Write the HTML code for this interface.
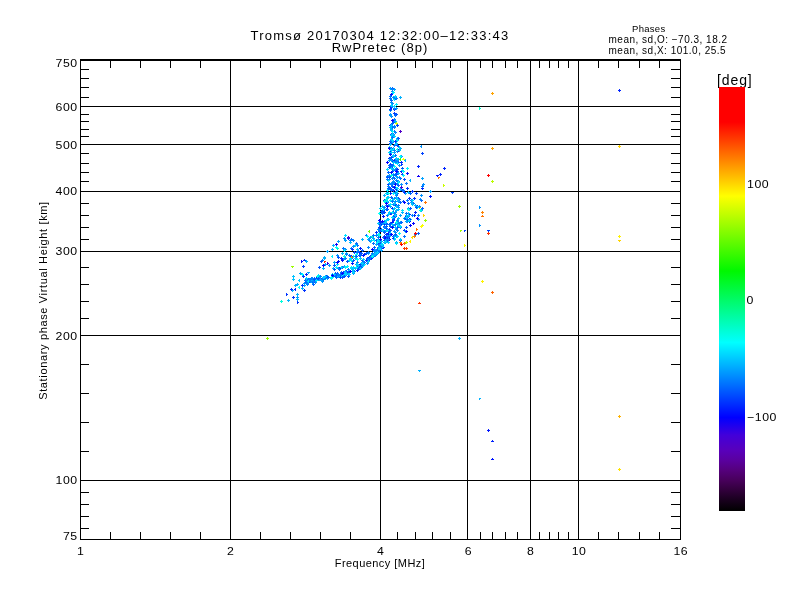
<!DOCTYPE html>
<html lang="en"><head><meta charset="utf-8"><title>Tromsø 20170304 RwPretec</title>
<style>html,body{margin:0;padding:0;background:#fff;overflow:hidden}svg{display:block;will-change:transform}text{font-family:"Liberation Sans",sans-serif;fill:#000}</style></head><body>
<svg width="800" height="600" viewBox="0 0 800 600">
<rect x="0" y="0" width="800" height="600" fill="#fff"/>
<g fill="#000" shape-rendering="crispEdges"><rect x="80" y="59" width="601" height="2"/><rect x="80" y="539" width="601" height="1"/><rect x="80" y="59" width="1" height="481"/><rect x="680" y="59" width="1" height="481"/><rect x="80" y="480" width="601" height="1"/><rect x="80" y="335" width="601" height="1"/><rect x="80" y="251" width="601" height="1"/><rect x="80" y="191" width="601" height="1"/><rect x="80" y="144" width="601" height="1"/><rect x="80" y="106" width="601" height="1"/><rect x="230" y="59" width="1" height="481"/><rect x="380" y="59" width="1" height="481"/><rect x="467" y="59" width="1" height="481"/><rect x="530" y="59" width="1" height="481"/><rect x="578" y="59" width="1" height="481"/><rect x="81" y="528" width="8" height="1"/><rect x="671" y="528" width="9" height="1"/><rect x="81" y="516" width="8" height="1"/><rect x="671" y="516" width="9" height="1"/><rect x="81" y="504" width="8" height="1"/><rect x="671" y="504" width="9" height="1"/><rect x="81" y="492" width="8" height="1"/><rect x="671" y="492" width="9" height="1"/><rect x="81" y="451" width="8" height="1"/><rect x="671" y="451" width="9" height="1"/><rect x="81" y="422" width="8" height="1"/><rect x="671" y="422" width="9" height="1"/><rect x="81" y="393" width="8" height="1"/><rect x="671" y="393" width="9" height="1"/><rect x="81" y="364" width="8" height="1"/><rect x="671" y="364" width="9" height="1"/><rect x="81" y="318" width="8" height="1"/><rect x="671" y="318" width="9" height="1"/><rect x="81" y="301" width="8" height="1"/><rect x="671" y="301" width="9" height="1"/><rect x="81" y="284" width="8" height="1"/><rect x="671" y="284" width="9" height="1"/><rect x="81" y="267" width="8" height="1"/><rect x="671" y="267" width="9" height="1"/><rect x="81" y="239" width="8" height="1"/><rect x="671" y="239" width="9" height="1"/><rect x="81" y="227" width="8" height="1"/><rect x="671" y="227" width="9" height="1"/><rect x="81" y="215" width="8" height="1"/><rect x="671" y="215" width="9" height="1"/><rect x="81" y="203" width="8" height="1"/><rect x="671" y="203" width="9" height="1"/><rect x="81" y="181" width="8" height="1"/><rect x="671" y="181" width="9" height="1"/><rect x="81" y="172" width="8" height="1"/><rect x="671" y="172" width="9" height="1"/><rect x="81" y="163" width="8" height="1"/><rect x="671" y="163" width="9" height="1"/><rect x="81" y="153" width="8" height="1"/><rect x="671" y="153" width="9" height="1"/><rect x="81" y="136" width="8" height="1"/><rect x="671" y="136" width="9" height="1"/><rect x="81" y="129" width="8" height="1"/><rect x="671" y="129" width="9" height="1"/><rect x="81" y="121" width="8" height="1"/><rect x="671" y="121" width="9" height="1"/><rect x="81" y="114" width="8" height="1"/><rect x="671" y="114" width="9" height="1"/><rect x="81" y="97" width="8" height="1"/><rect x="671" y="97" width="9" height="1"/><rect x="81" y="87" width="8" height="1"/><rect x="671" y="87" width="9" height="1"/><rect x="81" y="78" width="8" height="1"/><rect x="671" y="78" width="9" height="1"/><rect x="81" y="69" width="8" height="1"/><rect x="671" y="69" width="9" height="1"/><rect x="110" y="61" width="1" height="7"/><rect x="110" y="532" width="1" height="7"/><rect x="140" y="61" width="1" height="7"/><rect x="140" y="532" width="1" height="7"/><rect x="170" y="61" width="1" height="7"/><rect x="170" y="532" width="1" height="7"/><rect x="200" y="61" width="1" height="7"/><rect x="200" y="532" width="1" height="7"/><rect x="260" y="61" width="1" height="7"/><rect x="260" y="532" width="1" height="7"/><rect x="290" y="61" width="1" height="7"/><rect x="290" y="532" width="1" height="7"/><rect x="320" y="61" width="1" height="7"/><rect x="320" y="532" width="1" height="7"/><rect x="350" y="61" width="1" height="7"/><rect x="350" y="532" width="1" height="7"/><rect x="397" y="61" width="1" height="7"/><rect x="397" y="532" width="1" height="7"/><rect x="415" y="61" width="1" height="7"/><rect x="415" y="532" width="1" height="7"/><rect x="432" y="61" width="1" height="7"/><rect x="432" y="532" width="1" height="7"/><rect x="450" y="61" width="1" height="7"/><rect x="450" y="532" width="1" height="7"/><rect x="480" y="61" width="1" height="7"/><rect x="480" y="532" width="1" height="7"/><rect x="492" y="61" width="1" height="7"/><rect x="492" y="532" width="1" height="7"/><rect x="505" y="61" width="1" height="7"/><rect x="505" y="532" width="1" height="7"/><rect x="517" y="61" width="1" height="7"/><rect x="517" y="532" width="1" height="7"/><rect x="539" y="61" width="1" height="7"/><rect x="539" y="532" width="1" height="7"/><rect x="549" y="61" width="1" height="7"/><rect x="549" y="532" width="1" height="7"/><rect x="558" y="61" width="1" height="7"/><rect x="558" y="532" width="1" height="7"/><rect x="568" y="61" width="1" height="7"/><rect x="568" y="532" width="1" height="7"/><rect x="598" y="61" width="1" height="7"/><rect x="598" y="532" width="1" height="7"/><rect x="618" y="61" width="1" height="7"/><rect x="618" y="532" width="1" height="7"/><rect x="639" y="61" width="1" height="7"/><rect x="639" y="532" width="1" height="7"/><rect x="659" y="61" width="1" height="7"/><rect x="659" y="532" width="1" height="7"/></g>
<text transform="translate(77.6,540) scale(1.12,1)" font-size="11" text-anchor="end" letter-spacing="0.45">75</text>
<text transform="translate(77.6,484.02940642801605) scale(1.12,1)" font-size="11" text-anchor="end" letter-spacing="0.45">100</text>
<text transform="translate(77.6,339.53500850930504) scale(1.12,1)" font-size="11" text-anchor="end" letter-spacing="0.45">200</text>
<text transform="translate(77.6,255.01120416257805) scale(1.12,1)" font-size="11" text-anchor="end" letter-spacing="0.45">300</text>
<text transform="translate(77.6,195.0406105905941) scale(1.12,1)" font-size="11" text-anchor="end" letter-spacing="0.45">400</text>
<text transform="translate(77.6,148.523804346727) scale(1.12,1)" font-size="11" text-anchor="end" letter-spacing="0.45">500</text>
<text transform="translate(77.6,110.51680624386711) scale(1.12,1)" font-size="11" text-anchor="end" letter-spacing="0.45">600</text>
<text transform="translate(77.6,67) scale(1.12,1)" font-size="11" text-anchor="end" letter-spacing="0.45">750</text>
<text transform="translate(80.8,555) scale(1.12,1)" font-size="11" text-anchor="middle" letter-spacing="0.45">1</text>
<text transform="translate(230.8,555) scale(1.12,1)" font-size="11" text-anchor="middle" letter-spacing="0.45">2</text>
<text transform="translate(380.8,555) scale(1.12,1)" font-size="11" text-anchor="middle" letter-spacing="0.45">4</text>
<text transform="translate(468.5443751081734,555) scale(1.12,1)" font-size="11" text-anchor="middle" letter-spacing="0.45">6</text>
<text transform="translate(530.8,555) scale(1.12,1)" font-size="11" text-anchor="middle" letter-spacing="0.45">8</text>
<text transform="translate(579.0892142331043,555) scale(1.12,1)" font-size="11" text-anchor="middle" letter-spacing="0.45">10</text>
<text transform="translate(680.8,555) scale(1.12,1)" font-size="11" text-anchor="middle" letter-spacing="0.45">16</text>
<text x="380" y="39.6" font-size="13" text-anchor="middle" letter-spacing="1.25">Tromsø 20170304 12:32:00–12:33:43</text>
<text x="380" y="51.6" font-size="13" text-anchor="middle" letter-spacing="1.05">RwPretec (8p)</text>
<text x="380" y="567" font-size="11" text-anchor="middle" letter-spacing="0.45">Frequency [MHz]</text>
<text transform="translate(47,300.5) rotate(-90)" font-size="11" text-anchor="middle" letter-spacing="0.65">Stationary phase Virtual Height [km]</text>
<text x="632" y="32" font-size="9.5" text-anchor="start" letter-spacing="0.3">Phases</text>
<text x="608.5" y="43" font-size="10" text-anchor="start" letter-spacing="0.5">mean, sd,O: −70.3, 18.2</text>
<text x="608.5" y="53.8" font-size="10" text-anchor="start" letter-spacing="0.5">mean, sd,X: 101.0, 25.5</text>
<text x="717" y="85" font-size="14" text-anchor="start" letter-spacing="0.9">[deg]</text>
<text transform="translate(747,188) scale(1.12,1)" font-size="11" text-anchor="start" letter-spacing="0.5">100</text>
<text transform="translate(746.6,303.7) scale(1.12,1)" font-size="11" text-anchor="start" letter-spacing="0.4">0</text>
<text transform="translate(747,421) scale(1.12,1)" font-size="11" text-anchor="start" letter-spacing="0.5">−100</text>
<defs><linearGradient id="cb" x1="0" y1="0" x2="0" y2="1"><stop offset="0.0000" stop-color="#ff0000"/><stop offset="0.0825" stop-color="#ff0000"/><stop offset="0.2571" stop-color="#ffff00"/><stop offset="0.4340" stop-color="#00f800"/><stop offset="0.6026" stop-color="#00ffff"/><stop offset="0.7795" stop-color="#0000ff"/><stop offset="0.8208" stop-color="#4200da"/><stop offset="0.8561" stop-color="#5800bc"/><stop offset="0.8797" stop-color="#5a00a0"/><stop offset="0.9033" stop-color="#55007d"/><stop offset="0.9269" stop-color="#48005c"/><stop offset="0.9505" stop-color="#32003c"/><stop offset="0.9741" stop-color="#19001e"/><stop offset="1.0000" stop-color="#000000"/></linearGradient></defs><rect x="719" y="87" width="26" height="424" fill="url(#cb)"/>
<g shape-rendering="crispEdges">
<path fill="#9cfc00" d="M267,337h1v1h1v1h-1v1h-1v-1h-1v-1h1zM459,205h1v1h1v1h-1v1h-1v-1h-1v-1h1zM460,230h2v1h-1v1h-1zM425,219h1v1h1v1h-1v1h-1v-1h-1v-1h1zM291,266h3v1h-1v1h-1v-1h-1z"/>
<path fill="#ffa300" d="M492,92h1v1h1v1h-1v1h-1v-1h-1v-1h1zM492,147h1v1h1v1h-1v1h-1v-1h-1v-1h1z"/>
<path fill="#00fecb" d="M479,107h1v1h1v1h-1v1h-1zM336,274h1v1h1v1h-1v1h-1v-1h-1v-1h1zM333,275h1v1h1v1h-1v1h-1v-1h-1v-1h1zM381,246h1v1h1v1h-1v1h-1v-1h-1v-1h1zM372,235h1v1h1v1h-1v1h-1v-1h-1v-1h1zM337,247h1v1h1v1h-1v1h-1v-1h-1v-1h1zM353,255h1v1h1v1h-1v1h-1v-1h-1v-1h1zM396,140h1v1h1v1h-1v1h-1v-1h-1v-1h1z"/>
<path fill="#ff0000" d="M488,174h1v1h1v1h-1v1h-1v-1h-1v-1h1zM401,243h1v1h1v1h-1v1h-1v-1h-1v-1h1z"/>
<path fill="#bbfd00" d="M492,180h1v1h1v1h-1v1h-1v-1h-1v-1h1zM406,241h1v1h1v1h-1v1h-1v-1h-1v-1h1z"/>
<path fill="#0023ff" d="M619,89h1v1h1v1h-1v1h-1v-1h-1v-1h1zM492,440h1v1h1v1h-3v-1h1zM444,167h1v1h1v1h-1v1h-1v-1h-1v-1h1zM440,173h1v1h1v1h-1v1h-1v-1h-1v-1h1zM418,165h1v1h1v1h-1v1h-1v-1h-1v-1h1zM422,187h1v1h1v1h-1v1h-1v-1h-1v-1h1zM295,288h1v3h-1v-1h-1v-1h1zM306,273h1v1h1v1h-1v1h-1v-1h-1v-1h1zM309,280h1v1h1v1h-1v1h-1v-1h-1v-1h1zM377,249h1v1h1v1h-1v1h-1v-1h-1v-1h1zM369,258h1v1h1v1h-1v1h-1v-1h-1v-1h1zM369,256h1v1h1v1h-1v1h-1v-1h-1v-1h1zM351,255h1v1h1v1h-1v1h-1v-1h-1v-1h1zM364,253h1v1h1v1h-1v1h-1v-1h-1v-1h1zM341,257h1v1h1v1h-1v1h-1v-1h-1v-1h1zM339,267h1v1h1v1h-1v1h-1v-1h-1v-1h1zM390,192h1v1h1v1h-1v1h-1v-1h-1v-1h1zM414,214h1v1h1v1h-1v1h-1v-1h-1v-1h1zM384,222h1v1h1v1h-1v1h-1v-1h-1v-1h1zM415,211h1v1h1v1h-1v1h-1v-1h-1v-1h1zM390,212h1v1h1v1h-1v1h-1v-1h-1v-1h1zM392,216h1v1h1v1h-1v1h-1v-1h-1v-1h1zM392,207h1v1h1v1h-1v1h-1v-1h-1v-1h1zM417,205h1v1h1v1h-1v1h-1v-1h-1v-1h1zM409,213h1v1h1v1h-1v1h-1v-1h-1v-1h1zM405,216h1v1h1v1h-1v1h-1v-1h-1v-1h1zM401,161h1v1h1v1h-1v1h-1v-1h-1v-1h1zM398,145h1v1h1v1h-1v1h-1v-1h-1v-1h1zM389,157h1v1h1v1h-1v1h-1v-1h-1v-1h1zM396,167h1v1h1v1h-1v1h-1v-1h-1v-1h1zM393,96h1v1h1v1h-1v1h-1v-1h-1v-1h1z"/>
<path fill="#ffd300" d="M619,145h1v1h1v1h-1v1h-1v-1h-1v-1h1zM618,240h3v1h-1v1h-1v-1h-1zM423,214h1v1h1v1h-1v1h-1z"/>
<path fill="#fff300" d="M619,235h1v1h1v1h-1v1h-1v-1h-1v-1h1zM482,280h1v1h1v1h-1v1h-1v-1h-1v-1h1zM410,240h1v3h-1v-1h-1v-1h1z"/>
<path fill="#ffb300" d="M619,415h1v1h1v1h-1v1h-1v-1h-1v-1h1zM418,207h3v1h-1v1h-1v-1h-1z"/>
<path fill="#ffe300" d="M619,468h1v1h1v1h-1v1h-1v-1h-1v-1h1zM412,236h1v3h-1v-1h-1v-1h1z"/>
<path fill="#0092ff" d="M479,206h1v1h1v1h-1v1h-1zM479,224h1v1h1v1h-1v1h-1zM421,145h1v3h-1v-1h-1v-1h1zM423,183h1v1h1v1h-1v1h-1v-1h-1v-1h1zM315,281h1v1h1v1h-1v1h-1v-1h-1v-1h1zM309,279h1v1h1v1h-1v1h-1v-1h-1v-1h1zM322,280h1v1h1v1h-1v1h-1v-1h-1v-1h1zM327,276h1v1h1v1h-1v1h-1v-1h-1v-1h1zM304,282h1v1h1v1h-1v1h-1v-1h-1v-1h1zM305,279h1v1h1v1h-1v1h-1v-1h-1v-1h1zM311,280h1v1h1v1h-1v1h-1v-1h-1v-1h1zM323,277h1v1h1v1h-1v1h-1v-1h-1v-1h1zM314,279h1v1h1v1h-1v1h-1v-1h-1v-1h1zM312,280h1v1h1v1h-1v1h-1v-1h-1v-1h1zM332,274h1v1h1v1h-1v1h-1v-1h-1v-1h1zM379,248h1v1h1v1h-1v1h-1v-1h-1v-1h1zM359,267h1v1h1v1h-1v1h-1v-1h-1v-1h1zM367,262h1v1h1v1h-1v1h-1v-1h-1v-1h1zM367,257h1v1h1v1h-1v1h-1v-1h-1v-1h1zM376,253h1v1h1v1h-1v1h-1v-1h-1v-1h1zM359,267h1v1h1v1h-1v1h-1v-1h-1v-1h1zM382,245h1v1h1v1h-1v1h-1v-1h-1v-1h1zM346,270h1v1h1v1h-1v1h-1v-1h-1v-1h1zM382,244h1v1h1v1h-1v1h-1v-1h-1v-1h1zM375,254h1v1h1v1h-1v1h-1v-1h-1v-1h1zM346,272h1v1h1v1h-1v1h-1v-1h-1v-1h1zM386,238h1v1h1v1h-1v1h-1v-1h-1v-1h1zM368,258h1v1h1v1h-1v1h-1v-1h-1v-1h1zM346,273h1v1h1v1h-1v1h-1v-1h-1v-1h1zM385,241h1v1h1v1h-1v1h-1v-1h-1v-1h1zM378,246h1v1h1v1h-1v1h-1v-1h-1v-1h1zM345,248h1v1h1v1h-1v1h-1v-1h-1v-1h1zM343,258h1v1h1v1h-1v1h-1v-1h-1v-1h1zM344,237h1v1h1v1h-1v1h-1v-1h-1v-1h1zM329,264h1v1h1v1h-1v1h-1v-1h-1v-1h1zM353,239h1v1h1v1h-1v1h-1v-1h-1v-1h1zM366,252h1v1h1v1h-1v1h-1v-1h-1v-1h1zM337,254h1v1h1v1h-1v1h-1v-1h-1v-1h1zM370,236h1v1h1v1h-1v1h-1v-1h-1v-1h1zM353,245h1v1h1v1h-1v1h-1v-1h-1v-1h1zM338,267h1v1h1v1h-1v1h-1v-1h-1v-1h1zM345,270h1v1h1v1h-1v1h-1v-1h-1v-1h1zM342,259h1v1h1v1h-1v1h-1v-1h-1v-1h1zM398,206h1v1h1v1h-1v1h-1v-1h-1v-1h1zM393,224h1v1h1v1h-1v1h-1v-1h-1v-1h1zM397,219h1v1h1v1h-1v1h-1v-1h-1v-1h1zM396,235h1v1h1v1h-1v1h-1v-1h-1v-1h1zM421,194h1v1h1v1h-1v1h-1v-1h-1v-1h1zM379,223h1v1h1v1h-1v1h-1v-1h-1v-1h1zM395,231h1v1h1v1h-1v1h-1v-1h-1v-1h1zM393,203h1v1h1v1h-1v1h-1v-1h-1v-1h1zM383,222h1v1h1v1h-1v1h-1v-1h-1v-1h1zM419,205h1v1h1v1h-1v1h-1v-1h-1v-1h1zM398,221h1v1h1v1h-1v1h-1v-1h-1v-1h1zM384,230h1v1h1v1h-1v1h-1v-1h-1v-1h1zM382,222h1v1h1v1h-1v1h-1v-1h-1v-1h1zM418,214h1v1h1v1h-1v1h-1v-1h-1v-1h1zM398,222h1v1h1v1h-1v1h-1v-1h-1v-1h1zM386,236h1v1h1v1h-1v1h-1v-1h-1v-1h1zM411,201h1v1h1v1h-1v1h-1v-1h-1v-1h1zM394,230h1v1h1v1h-1v1h-1v-1h-1v-1h1zM395,200h1v1h1v1h-1v1h-1v-1h-1v-1h1zM406,212h1v1h1v1h-1v1h-1v-1h-1v-1h1zM393,164h1v1h1v1h-1v1h-1v-1h-1v-1h1zM396,167h1v1h1v1h-1v1h-1v-1h-1v-1h1zM397,144h1v1h1v1h-1v1h-1v-1h-1v-1h1zM393,169h1v1h1v1h-1v1h-1v-1h-1v-1h1zM401,183h1v1h1v1h-1v1h-1v-1h-1v-1h1zM389,178h1v1h1v1h-1v1h-1v-1h-1v-1h1zM389,174h1v1h1v1h-1v1h-1v-1h-1v-1h1zM393,180h1v1h1v1h-1v1h-1v-1h-1v-1h1zM391,149h1v1h1v1h-1v1h-1v-1h-1v-1h1zM397,150h1v1h1v1h-1v1h-1v-1h-1v-1h1zM392,168h1v1h1v1h-1v1h-1v-1h-1v-1h1zM395,168h1v1h1v1h-1v1h-1v-1h-1v-1h1zM392,141h1v1h1v1h-1v1h-1v-1h-1v-1h1zM387,175h1v1h1v1h-1v1h-1v-1h-1v-1h1zM399,164h1v1h1v1h-1v1h-1v-1h-1v-1h1zM388,185h1v1h1v1h-1v1h-1v-1h-1v-1h1zM393,155h1v1h1v1h-1v1h-1v-1h-1v-1h1zM392,90h1v1h1v1h-1v1h-1v-1h-1v-1h1zM394,126h1v1h1v1h-1v1h-1v-1h-1v-1h1zM391,115h1v1h1v1h-1v1h-1v-1h-1v-1h1zM391,101h1v1h1v1h-1v1h-1v-1h-1v-1h1zM390,109h1v1h1v1h-1v1h-1v-1h-1v-1h1zM392,102h1v1h1v1h-1v1h-1v-1h-1v-1h1zM393,96h1v1h1v1h-1v1h-1v-1h-1v-1h1zM392,92h1v1h1v1h-1v1h-1v-1h-1v-1h1zM390,114h1v1h1v1h-1v1h-1v-1h-1v-1h1z"/>
<path fill="#ff8300" d="M482,211h1v1h1v1h-1v1h-1v-1h-1v-1h1zM414,235h1v1h1v1h-1v1h-1v-1h-1v-1h1zM400,241h1v1h1v1h-1v1h-1v-1h-1v-1h1z"/>
<path fill="#ff7300" d="M482,215h1v1h1v1h-3v-1h1zM438,177h2v1h-1v1h-1zM425,201h1v1h1v1h-1v1h-1v-1h-1v-1h1zM416,228h1v1h1v1h-1v1h-1zM404,242h1v1h1v1h-1v1h-1v-1h-1v-1h1z"/>
<path fill="#0043ff" d="M487,230h3v1h-1v1h-1v-1h-1zM464,230h2v1h-1v1h-1zM451,192h3v1h-1v1h-1v-1h-1zM422,152h1v1h1v1h-1v1h-1v-1h-1v-1h1zM303,265h1v1h1v1h-1v1h-1v-1h-1v-1h1zM321,260h1v3h-1v-1h-1v-1h1zM323,276h1v1h1v1h-1v1h-1v-1h-1v-1h1zM320,277h1v1h1v1h-1v1h-1v-1h-1v-1h1zM308,278h1v1h1v1h-1v1h-1v-1h-1v-1h1zM310,279h1v1h1v1h-1v1h-1v-1h-1v-1h1zM340,276h1v1h1v1h-1v1h-1v-1h-1v-1h1zM331,277h1v1h1v1h-1v1h-1v-1h-1v-1h1zM371,254h1v1h1v1h-1v1h-1v-1h-1v-1h1zM387,237h1v1h1v1h-1v1h-1v-1h-1v-1h1zM348,271h1v1h1v1h-1v1h-1v-1h-1v-1h1zM372,255h1v1h1v1h-1v1h-1v-1h-1v-1h1zM387,237h1v1h1v1h-1v1h-1v-1h-1v-1h1zM341,273h1v1h1v1h-1v1h-1v-1h-1v-1h1zM381,245h1v1h1v1h-1v1h-1v-1h-1v-1h1zM347,271h1v1h1v1h-1v1h-1v-1h-1v-1h1zM343,271h1v1h1v1h-1v1h-1v-1h-1v-1h1zM389,235h1v1h1v1h-1v1h-1v-1h-1v-1h1zM358,264h1v1h1v1h-1v1h-1v-1h-1v-1h1zM359,266h1v1h1v1h-1v1h-1v-1h-1v-1h1zM416,192h1v1h1v1h-1v1h-1v-1h-1v-1h1zM381,229h1v1h1v1h-1v1h-1v-1h-1v-1h1zM379,226h1v1h1v1h-1v1h-1v-1h-1v-1h1zM384,211h1v1h1v1h-1v1h-1v-1h-1v-1h1zM389,228h1v1h1v1h-1v1h-1v-1h-1v-1h1zM383,209h1v1h1v1h-1v1h-1v-1h-1v-1h1zM402,189h1v1h1v1h-1v1h-1v-1h-1v-1h1zM393,235h1v1h1v1h-1v1h-1v-1h-1v-1h1zM384,199h1v1h1v1h-1v1h-1v-1h-1v-1h1zM387,214h1v1h1v1h-1v1h-1v-1h-1v-1h1zM398,181h1v1h1v1h-1v1h-1v-1h-1v-1h1zM392,167h1v1h1v1h-1v1h-1v-1h-1v-1h1zM390,163h1v1h1v1h-1v1h-1v-1h-1v-1h1zM392,159h1v1h1v1h-1v1h-1v-1h-1v-1h1zM388,183h1v1h1v1h-1v1h-1v-1h-1v-1h1zM390,164h1v1h1v1h-1v1h-1v-1h-1v-1h1zM402,173h1v1h1v1h-1v1h-1v-1h-1v-1h1zM397,124h1v1h1v1h-1v1h-1v-1h-1v-1h1zM394,112h1v1h1v1h-1v1h-1v-1h-1v-1h1z"/>
<path fill="#ff3300" d="M488,232h1v1h1v1h-1v1h-1v-1h-1v-1h1zM419,302h1v1h1v1h-3v-1h1zM404,247h1v1h1v1h-1v1h-1v-1h-1v-1h1z"/>
<path fill="#fbff00" d="M464,244h1v1h1v1h-1v1h-1zM403,158h1v1h1v1h-3v-1h1zM422,224h1v1h1v1h-1v1h-1v-1h-1v-1h1zM421,225h1v1h1v1h-1v1h-1v-1h-1v-1h1z"/>
<path fill="#ff6300" d="M492,291h1v1h1v1h-1v1h-1v-1h-1v-1h1z"/>
<path fill="#00b2ff" d="M459,337h1v1h1v1h-1v1h-1v-1h-1v-1h1zM418,370h3v1h-1v1h-1v-1h-1zM479,398h2v1h-1v1h-1zM405,159h1v3h-1v-1h-1v-1h1zM400,147h1v1h1v1h-1v1h-1v-1h-1v-1h1zM410,179h1v3h-1v-1h-1v-1h1zM406,182h1v3h-1v-1h-1v-1h1zM400,96h1v1h1v1h-1v1h-1v-1h-1v-1h1zM288,299h1v1h1v1h-1v1h-1v-1h-1v-1h1zM297,293h1v1h1v1h-1v1h-1v-1h-1v-1h1zM297,298h1v1h1v1h-1v1h-1v-1h-1v-1h1zM292,289h1v1h1v1h-1v1h-1v-1h-1v-1h1zM295,284h1v1h1v1h-1v1h-1v-1h-1v-1h1zM297,283h1v1h1v1h-1v1h-1v-1h-1v-1h1zM306,260h1v1h1v1h-1v1h-1v-1h-1v-1h1zM304,284h1v1h1v1h-1v1h-1v-1h-1v-1h1zM302,287h1v1h1v1h-1v1h-1v-1h-1v-1h1zM324,257h1v1h1v1h-1v1h-1v-1h-1v-1h1zM324,256h1v1h1v1h-1v1h-1v-1h-1v-1h1zM332,248h1v1h1v1h-1v1h-1v-1h-1v-1h1zM333,244h1v1h1v1h-1v1h-1v-1h-1v-1h1zM311,278h1v1h1v1h-1v1h-1v-1h-1v-1h1zM312,281h1v1h1v1h-1v1h-1v-1h-1v-1h1zM327,275h1v1h1v1h-1v1h-1v-1h-1v-1h1zM319,277h1v1h1v1h-1v1h-1v-1h-1v-1h1zM320,275h1v1h1v1h-1v1h-1v-1h-1v-1h1zM325,277h1v1h1v1h-1v1h-1v-1h-1v-1h1zM335,275h1v1h1v1h-1v1h-1v-1h-1v-1h1zM358,265h1v1h1v1h-1v1h-1v-1h-1v-1h1zM368,259h1v1h1v1h-1v1h-1v-1h-1v-1h1zM347,272h1v1h1v1h-1v1h-1v-1h-1v-1h1zM355,267h1v1h1v1h-1v1h-1v-1h-1v-1h1zM342,274h1v1h1v1h-1v1h-1v-1h-1v-1h1zM359,265h1v1h1v1h-1v1h-1v-1h-1v-1h1zM343,273h1v1h1v1h-1v1h-1v-1h-1v-1h1zM381,240h1v1h1v1h-1v1h-1v-1h-1v-1h1zM375,249h1v1h1v1h-1v1h-1v-1h-1v-1h1zM361,262h1v1h1v1h-1v1h-1v-1h-1v-1h1zM333,267h1v1h1v1h-1v1h-1v-1h-1v-1h1zM323,267h1v1h1v1h-1v1h-1v-1h-1v-1h1zM355,255h1v1h1v1h-1v1h-1v-1h-1v-1h1zM376,243h1v1h1v1h-1v1h-1v-1h-1v-1h1zM370,240h1v1h1v1h-1v1h-1v-1h-1v-1h1zM362,238h1v1h1v1h-1v1h-1v-1h-1v-1h1zM368,238h1v1h1v1h-1v1h-1v-1h-1v-1h1zM338,260h1v1h1v1h-1v1h-1v-1h-1v-1h1zM344,265h1v1h1v1h-1v1h-1v-1h-1v-1h1zM368,252h1v1h1v1h-1v1h-1v-1h-1v-1h1zM356,263h1v1h1v1h-1v1h-1v-1h-1v-1h1zM346,252h1v1h1v1h-1v1h-1v-1h-1v-1h1zM352,262h1v1h1v1h-1v1h-1v-1h-1v-1h1zM411,201h1v1h1v1h-1v1h-1v-1h-1v-1h1zM384,220h1v1h1v1h-1v1h-1v-1h-1v-1h1zM421,209h1v1h1v1h-1v1h-1v-1h-1v-1h1zM406,214h1v1h1v1h-1v1h-1v-1h-1v-1h1zM386,240h1v1h1v1h-1v1h-1v-1h-1v-1h1zM415,204h1v1h1v1h-1v1h-1v-1h-1v-1h1zM402,211h1v1h1v1h-1v1h-1v-1h-1v-1h1zM377,239h1v1h1v1h-1v1h-1v-1h-1v-1h1zM386,229h1v1h1v1h-1v1h-1v-1h-1v-1h1zM410,218h1v1h1v1h-1v1h-1v-1h-1v-1h1zM396,241h1v1h1v1h-1v1h-1v-1h-1v-1h1zM387,233h1v1h1v1h-1v1h-1v-1h-1v-1h1zM396,209h1v1h1v1h-1v1h-1v-1h-1v-1h1zM385,200h1v1h1v1h-1v1h-1v-1h-1v-1h1zM392,223h1v1h1v1h-1v1h-1v-1h-1v-1h1zM405,192h1v1h1v1h-1v1h-1v-1h-1v-1h1zM384,194h1v1h1v1h-1v1h-1v-1h-1v-1h1zM400,221h1v1h1v1h-1v1h-1v-1h-1v-1h1zM388,238h1v1h1v1h-1v1h-1v-1h-1v-1h1zM408,212h1v1h1v1h-1v1h-1v-1h-1v-1h1zM407,219h1v1h1v1h-1v1h-1v-1h-1v-1h1zM395,143h1v1h1v1h-1v1h-1v-1h-1v-1h1zM393,155h1v1h1v1h-1v1h-1v-1h-1v-1h1zM393,173h1v1h1v1h-1v1h-1v-1h-1v-1h1zM394,186h1v1h1v1h-1v1h-1v-1h-1v-1h1zM393,168h1v1h1v1h-1v1h-1v-1h-1v-1h1zM393,182h1v1h1v1h-1v1h-1v-1h-1v-1h1zM392,140h1v1h1v1h-1v1h-1v-1h-1v-1h1zM395,182h1v1h1v1h-1v1h-1v-1h-1v-1h1zM398,172h1v1h1v1h-1v1h-1v-1h-1v-1h1zM391,182h1v1h1v1h-1v1h-1v-1h-1v-1h1zM396,173h1v1h1v1h-1v1h-1v-1h-1v-1h1zM396,175h1v1h1v1h-1v1h-1v-1h-1v-1h1zM389,146h1v1h1v1h-1v1h-1v-1h-1v-1h1zM395,120h1v1h1v1h-1v1h-1v-1h-1v-1h1zM391,128h1v1h1v1h-1v1h-1v-1h-1v-1h1zM397,138h1v1h1v1h-1v1h-1v-1h-1v-1h1zM390,113h1v1h1v1h-1v1h-1v-1h-1v-1h1zM397,137h1v1h1v1h-1v1h-1v-1h-1v-1h1zM394,88h1v1h1v1h-1v1h-1v-1h-1v-1h1z"/>
<path fill="#0014ff" d="M488,429h1v1h1v1h-1v1h-1v-1h-1v-1h1zM492,458h1v1h1v1h-3v-1h1zM436,175h3v1h-1v1h-1v-1h-1zM430,195h1v1h1v1h-1v1h-1v-1h-1v-1h1zM407,172h1v1h1v1h-1v1h-1v-1h-1v-1h1zM301,260h1v1h1v1h-1v1h-1zM316,277h1v1h1v1h-1v1h-1v-1h-1v-1h1zM357,269h1v1h1v1h-1v1h-1v-1h-1v-1h1zM382,246h1v1h1v1h-1v1h-1v-1h-1v-1h1zM338,260h1v1h1v1h-1v1h-1v-1h-1v-1h1zM360,247h1v1h1v1h-1v1h-1v-1h-1v-1h1zM348,237h1v1h1v1h-1v1h-1v-1h-1v-1h1zM352,262h1v1h1v1h-1v1h-1v-1h-1v-1h1zM363,254h1v1h1v1h-1v1h-1v-1h-1v-1h1zM342,259h1v1h1v1h-1v1h-1v-1h-1v-1h1zM388,218h1v1h1v1h-1v1h-1v-1h-1v-1h1zM383,215h1v1h1v1h-1v1h-1v-1h-1v-1h1zM380,223h1v1h1v1h-1v1h-1v-1h-1v-1h1zM378,236h1v1h1v1h-1v1h-1v-1h-1v-1h1zM388,232h1v1h1v1h-1v1h-1v-1h-1v-1h1zM392,221h1v1h1v1h-1v1h-1v-1h-1v-1h1zM406,212h1v1h1v1h-1v1h-1v-1h-1v-1h1zM409,220h1v1h1v1h-1v1h-1v-1h-1v-1h1zM409,218h1v1h1v1h-1v1h-1v-1h-1v-1h1zM390,153h1v1h1v1h-1v1h-1v-1h-1v-1h1zM390,150h1v1h1v1h-1v1h-1v-1h-1v-1h1zM401,170h1v1h1v1h-1v1h-1v-1h-1v-1h1zM391,93h1v1h1v1h-1v1h-1v-1h-1v-1h1zM390,124h1v1h1v1h-1v1h-1v-1h-1v-1h1zM391,106h1v1h1v1h-1v1h-1v-1h-1v-1h1zM395,96h1v1h1v1h-1v1h-1v-1h-1v-1h1z"/>
<path fill="#cbfe00" d="M443,184h1v1h1v1h-1v1h-1z"/>
<path fill="#00a2ff" d="M430,190h1v1h1v1h-1v1h-1v-1h-1v-1h1zM422,177h1v1h1v1h-1v1h-1v-1h-1v-1h1zM401,155h1v1h1v1h-1v1h-1zM297,296h1v1h1v1h-1v1h-1v-1h-1v-1h1zM300,272h1v1h1v1h-1v1h-1v-1h-1v-1h1zM307,272h3v1h-1v1h-1v-1h-1zM327,250h1v1h1v1h-1v1h-1v-1h-1v-1h1zM318,278h1v1h1v1h-1v1h-1v-1h-1v-1h1zM318,278h1v1h1v1h-1v1h-1v-1h-1v-1h1zM312,278h1v1h1v1h-1v1h-1v-1h-1v-1h1zM319,278h1v1h1v1h-1v1h-1v-1h-1v-1h1zM321,279h1v1h1v1h-1v1h-1v-1h-1v-1h1zM327,277h1v1h1v1h-1v1h-1v-1h-1v-1h1zM308,279h1v1h1v1h-1v1h-1v-1h-1v-1h1zM324,277h1v1h1v1h-1v1h-1v-1h-1v-1h1zM335,275h1v1h1v1h-1v1h-1v-1h-1v-1h1zM333,275h1v1h1v1h-1v1h-1v-1h-1v-1h1zM335,275h1v1h1v1h-1v1h-1v-1h-1v-1h1zM342,272h1v1h1v1h-1v1h-1v-1h-1v-1h1zM371,256h1v1h1v1h-1v1h-1v-1h-1v-1h1zM380,246h1v1h1v1h-1v1h-1v-1h-1v-1h1zM372,254h1v1h1v1h-1v1h-1v-1h-1v-1h1zM346,272h1v1h1v1h-1v1h-1v-1h-1v-1h1zM381,246h1v1h1v1h-1v1h-1v-1h-1v-1h1zM381,249h1v1h1v1h-1v1h-1v-1h-1v-1h1zM363,263h1v1h1v1h-1v1h-1v-1h-1v-1h1zM374,252h1v1h1v1h-1v1h-1v-1h-1v-1h1zM372,253h1v1h1v1h-1v1h-1v-1h-1v-1h1zM345,272h1v1h1v1h-1v1h-1v-1h-1v-1h1zM376,250h1v1h1v1h-1v1h-1v-1h-1v-1h1zM353,272h1v1h1v1h-1v1h-1v-1h-1v-1h1zM373,254h1v1h1v1h-1v1h-1v-1h-1v-1h1zM373,237h1v1h1v1h-1v1h-1v-1h-1v-1h1zM369,237h1v1h1v1h-1v1h-1v-1h-1v-1h1zM357,251h1v1h1v1h-1v1h-1v-1h-1v-1h1zM374,249h1v1h1v1h-1v1h-1v-1h-1v-1h1zM345,239h1v1h1v1h-1v1h-1v-1h-1v-1h1zM338,240h1v1h1v1h-1v1h-1v-1h-1v-1h1zM325,263h1v1h1v1h-1v1h-1v-1h-1v-1h1zM334,261h1v1h1v1h-1v1h-1v-1h-1v-1h1zM397,205h1v1h1v1h-1v1h-1v-1h-1v-1h1zM390,205h1v1h1v1h-1v1h-1v-1h-1v-1h1zM387,218h1v1h1v1h-1v1h-1v-1h-1v-1h1zM400,214h1v1h1v1h-1v1h-1v-1h-1v-1h1zM389,238h1v1h1v1h-1v1h-1v-1h-1v-1h1zM395,211h1v1h1v1h-1v1h-1v-1h-1v-1h1zM408,207h1v1h1v1h-1v1h-1v-1h-1v-1h1zM388,192h1v1h1v1h-1v1h-1v-1h-1v-1h1zM394,215h1v1h1v1h-1v1h-1v-1h-1v-1h1zM406,220h1v1h1v1h-1v1h-1v-1h-1v-1h1zM387,229h1v1h1v1h-1v1h-1v-1h-1v-1h1zM418,218h1v1h1v1h-1v1h-1v-1h-1v-1h1zM398,200h1v1h1v1h-1v1h-1v-1h-1v-1h1zM407,220h1v1h1v1h-1v1h-1v-1h-1v-1h1zM397,189h1v1h1v1h-1v1h-1v-1h-1v-1h1zM394,235h1v1h1v1h-1v1h-1v-1h-1v-1h1zM404,217h1v1h1v1h-1v1h-1v-1h-1v-1h1zM389,182h1v1h1v1h-1v1h-1v-1h-1v-1h1zM397,176h1v1h1v1h-1v1h-1v-1h-1v-1h1zM391,159h1v1h1v1h-1v1h-1v-1h-1v-1h1zM398,180h1v1h1v1h-1v1h-1v-1h-1v-1h1zM397,176h1v1h1v1h-1v1h-1v-1h-1v-1h1zM394,151h1v1h1v1h-1v1h-1v-1h-1v-1h1zM398,158h1v1h1v1h-1v1h-1v-1h-1v-1h1zM393,147h1v1h1v1h-1v1h-1v-1h-1v-1h1zM397,160h1v1h1v1h-1v1h-1v-1h-1v-1h1zM395,159h1v1h1v1h-1v1h-1v-1h-1v-1h1zM389,159h1v1h1v1h-1v1h-1v-1h-1v-1h1zM394,88h1v1h1v1h-1v1h-1v-1h-1v-1h1zM393,96h1v1h1v1h-1v1h-1v-1h-1v-1h1zM396,122h1v1h1v1h-1v1h-1v-1h-1v-1h1zM396,107h1v1h1v1h-1v1h-1v-1h-1v-1h1zM390,87h1v1h1v1h-1v1h-1v-1h-1v-1h1zM390,113h1v1h1v1h-1v1h-1v-1h-1v-1h1z"/>
<path fill="#0d00f7" d="M418,175h1v1h1v1h-3v-1h1zM387,236h1v1h1v1h-1v1h-1v-1h-1v-1h1zM359,267h1v1h1v1h-1v1h-1v-1h-1v-1h1zM382,245h1v1h1v1h-1v1h-1v-1h-1v-1h1zM379,248h1v1h1v1h-1v1h-1v-1h-1v-1h1zM323,264h1v1h1v1h-1v1h-1v-1h-1v-1h1zM336,243h1v1h1v1h-1v1h-1v-1h-1v-1h1zM359,264h1v1h1v1h-1v1h-1v-1h-1v-1h1zM356,257h1v1h1v1h-1v1h-1v-1h-1v-1h1zM417,217h1v1h1v1h-1v1h-1v-1h-1v-1h1zM385,237h1v1h1v1h-1v1h-1v-1h-1v-1h1zM380,238h1v1h1v1h-1v1h-1v-1h-1v-1h1zM389,238h1v1h1v1h-1v1h-1v-1h-1v-1h1zM395,183h1v1h1v1h-1v1h-1v-1h-1v-1h1zM389,147h1v1h1v1h-1v1h-1v-1h-1v-1h1zM392,119h1v1h1v1h-1v1h-1v-1h-1v-1h1z"/>
<path fill="#0073ff" d="M422,185h1v1h1v1h-1v1h-1v-1h-1v-1h1zM415,233h1v1h1v1h-1v1h-1v-1h-1v-1h1zM314,277h1v1h1v1h-1v1h-1v-1h-1v-1h1zM311,277h1v1h1v1h-1v1h-1v-1h-1v-1h1zM323,278h1v1h1v1h-1v1h-1v-1h-1v-1h1zM339,274h1v1h1v1h-1v1h-1v-1h-1v-1h1zM357,266h1v1h1v1h-1v1h-1v-1h-1v-1h1zM367,257h1v1h1v1h-1v1h-1v-1h-1v-1h1zM361,265h1v1h1v1h-1v1h-1v-1h-1v-1h1zM373,255h1v1h1v1h-1v1h-1v-1h-1v-1h1zM388,238h1v1h1v1h-1v1h-1v-1h-1v-1h1zM341,273h1v1h1v1h-1v1h-1v-1h-1v-1h1zM361,266h1v1h1v1h-1v1h-1v-1h-1v-1h1zM378,251h1v1h1v1h-1v1h-1v-1h-1v-1h1zM348,268h1v1h1v1h-1v1h-1v-1h-1v-1h1zM351,257h1v1h1v1h-1v1h-1v-1h-1v-1h1zM376,231h1v1h1v1h-1v1h-1v-1h-1v-1h1zM343,247h1v1h1v1h-1v1h-1v-1h-1v-1h1zM357,244h1v1h1v1h-1v1h-1v-1h-1v-1h1zM378,236h1v1h1v1h-1v1h-1v-1h-1v-1h1zM373,242h1v1h1v1h-1v1h-1v-1h-1v-1h1zM349,254h1v1h1v1h-1v1h-1v-1h-1v-1h1zM322,259h1v1h1v1h-1v1h-1v-1h-1v-1h1zM373,234h1v1h1v1h-1v1h-1v-1h-1v-1h1zM366,234h1v1h1v1h-1v1h-1v-1h-1v-1h1zM356,242h1v1h1v1h-1v1h-1v-1h-1v-1h1zM351,247h1v1h1v1h-1v1h-1v-1h-1v-1h1zM339,268h1v1h1v1h-1v1h-1v-1h-1v-1h1zM356,251h1v1h1v1h-1v1h-1v-1h-1v-1h1zM354,251h1v1h1v1h-1v1h-1v-1h-1v-1h1zM379,230h1v1h1v1h-1v1h-1v-1h-1v-1h1zM392,223h1v1h1v1h-1v1h-1v-1h-1v-1h1zM387,214h1v1h1v1h-1v1h-1v-1h-1v-1h1zM380,220h1v1h1v1h-1v1h-1v-1h-1v-1h1zM378,243h1v1h1v1h-1v1h-1v-1h-1v-1h1zM389,223h1v1h1v1h-1v1h-1v-1h-1v-1h1zM404,235h1v1h1v1h-1v1h-1v-1h-1v-1h1zM391,196h1v1h1v1h-1v1h-1v-1h-1v-1h1zM392,226h1v1h1v1h-1v1h-1v-1h-1v-1h1zM403,189h1v1h1v1h-1v1h-1v-1h-1v-1h1zM397,192h1v1h1v1h-1v1h-1v-1h-1v-1h1zM392,200h1v1h1v1h-1v1h-1v-1h-1v-1h1zM379,234h1v1h1v1h-1v1h-1v-1h-1v-1h1zM399,198h1v1h1v1h-1v1h-1v-1h-1v-1h1zM396,197h1v1h1v1h-1v1h-1v-1h-1v-1h1zM400,226h1v1h1v1h-1v1h-1v-1h-1v-1h1zM411,199h1v1h1v1h-1v1h-1v-1h-1v-1h1zM381,228h1v1h1v1h-1v1h-1v-1h-1v-1h1zM383,236h1v1h1v1h-1v1h-1v-1h-1v-1h1zM413,202h1v1h1v1h-1v1h-1v-1h-1v-1h1zM407,199h1v1h1v1h-1v1h-1v-1h-1v-1h1zM395,213h1v1h1v1h-1v1h-1v-1h-1v-1h1zM394,203h1v1h1v1h-1v1h-1v-1h-1v-1h1zM409,219h1v1h1v1h-1v1h-1v-1h-1v-1h1zM407,218h1v1h1v1h-1v1h-1v-1h-1v-1h1zM406,212h1v1h1v1h-1v1h-1v-1h-1v-1h1zM397,180h1v1h1v1h-1v1h-1v-1h-1v-1h1zM395,173h1v1h1v1h-1v1h-1v-1h-1v-1h1zM394,144h1v1h1v1h-1v1h-1v-1h-1v-1h1zM393,174h1v1h1v1h-1v1h-1v-1h-1v-1h1zM406,182h1v1h1v1h-1v1h-1v-1h-1v-1h1zM397,183h1v1h1v1h-1v1h-1v-1h-1v-1h1zM394,177h1v1h1v1h-1v1h-1v-1h-1v-1h1zM390,175h1v1h1v1h-1v1h-1v-1h-1v-1h1zM390,140h1v1h1v1h-1v1h-1v-1h-1v-1h1zM400,177h1v1h1v1h-1v1h-1v-1h-1v-1h1zM391,188h1v1h1v1h-1v1h-1v-1h-1v-1h1zM390,157h1v1h1v1h-1v1h-1v-1h-1v-1h1zM391,188h1v1h1v1h-1v1h-1v-1h-1v-1h1zM397,182h1v1h1v1h-1v1h-1v-1h-1v-1h1zM389,164h1v1h1v1h-1v1h-1v-1h-1v-1h1zM393,176h1v1h1v1h-1v1h-1v-1h-1v-1h1zM395,169h1v1h1v1h-1v1h-1v-1h-1v-1h1zM394,130h1v1h1v1h-1v1h-1v-1h-1v-1h1zM392,136h1v1h1v1h-1v1h-1v-1h-1v-1h1zM390,97h1v1h1v1h-1v1h-1v-1h-1v-1h1zM395,95h1v1h1v1h-1v1h-1v-1h-1v-1h1zM390,95h1v1h1v1h-1v1h-1v-1h-1v-1h1zM395,114h1v1h1v1h-1v1h-1v-1h-1v-1h1zM392,126h1v1h1v1h-1v1h-1v-1h-1v-1h1z"/>
<path fill="#00f2ff" d="M407,167h1v1h1v1h-1v1h-1v-1h-1v-1h1zM332,255h1v3h-1v-1h-1v-1h1zM331,277h1v1h1v1h-1v1h-1v-1h-1v-1h1zM364,263h1v1h1v1h-1v1h-1v-1h-1v-1h1zM356,266h1v1h1v1h-1v1h-1v-1h-1v-1h1zM371,257h1v1h1v1h-1v1h-1v-1h-1v-1h1zM347,265h1v1h1v1h-1v1h-1v-1h-1v-1h1zM344,249h1v1h1v1h-1v1h-1v-1h-1v-1h1zM377,241h1v1h1v1h-1v1h-1v-1h-1v-1h1zM336,266h1v1h1v1h-1v1h-1v-1h-1v-1h1zM345,266h1v1h1v1h-1v1h-1v-1h-1v-1h1zM351,266h1v1h1v1h-1v1h-1v-1h-1v-1h1zM395,192h1v1h1v1h-1v1h-1v-1h-1v-1h1zM399,232h1v1h1v1h-1v1h-1v-1h-1v-1h1zM393,192h1v1h1v1h-1v1h-1v-1h-1v-1h1zM387,189h1v1h1v1h-1v1h-1v-1h-1v-1h1zM390,203h1v1h1v1h-1v1h-1v-1h-1v-1h1zM383,208h1v1h1v1h-1v1h-1v-1h-1v-1h1zM409,208h1v1h1v1h-1v1h-1v-1h-1v-1h1zM403,174h1v1h1v1h-1v1h-1v-1h-1v-1h1zM398,181h1v1h1v1h-1v1h-1v-1h-1v-1h1zM391,167h1v1h1v1h-1v1h-1v-1h-1v-1h1zM388,179h1v1h1v1h-1v1h-1v-1h-1v-1h1zM394,98h1v1h1v1h-1v1h-1v-1h-1v-1h1zM396,103h1v1h1v1h-1v1h-1v-1h-1v-1h1zM393,91h1v1h1v1h-1v1h-1v-1h-1v-1h1z"/>
<path fill="#00fffd" d="M403,170h1v1h1v1h-1v1h-1v-1h-1v-1h1zM299,286h1v3h-1v-1h-1v-1h1zM302,273h1v1h1v1h-1v1h-1v-1h-1v-1h1zM331,276h1v1h1v1h-1v1h-1v-1h-1v-1h1zM342,275h1v1h1v1h-1v1h-1v-1h-1v-1h1zM382,243h1v1h1v1h-1v1h-1v-1h-1v-1h1zM378,233h1v1h1v1h-1v1h-1v-1h-1v-1h1zM336,246h1v1h1v1h-1v1h-1v-1h-1v-1h1zM374,239h1v1h1v1h-1v1h-1v-1h-1v-1h1zM367,235h1v1h1v1h-1v1h-1v-1h-1v-1h1zM356,253h1v1h1v1h-1v1h-1v-1h-1v-1h1zM379,212h1v1h1v1h-1v1h-1v-1h-1v-1h1zM394,237h1v1h1v1h-1v1h-1v-1h-1v-1h1zM389,231h1v1h1v1h-1v1h-1v-1h-1v-1h1zM417,206h1v1h1v1h-1v1h-1v-1h-1v-1h1zM393,148h1v1h1v1h-1v1h-1v-1h-1v-1h1zM397,148h1v1h1v1h-1v1h-1v-1h-1v-1h1zM400,155h1v1h1v1h-1v1h-1v-1h-1v-1h1zM392,105h1v1h1v1h-1v1h-1v-1h-1v-1h1zM392,130h1v1h1v1h-1v1h-1v-1h-1v-1h1z"/>
<path fill="#3cfa00" d="M400,158h1v3h-1v-1h-1v-1h1z"/>
<path fill="#0033ff" d="M401,163h1v1h1v1h-1v1h-1zM407,187h1v1h1v1h-1v1h-1v-1h-1v-1h1zM297,301h1v1h1v1h-1v1h-1zM286,293h1v1h1v1h-1v1h-1zM293,296h1v1h1v1h-1v1h-1v-1h-1v-1h1zM291,288h1v1h1v1h-1v1h-1v-1h-1v-1h1zM304,259h1v1h1v1h-3v-1h1zM303,275h1v1h1v1h-1v1h-1v-1h-1v-1h1zM302,284h1v1h1v1h-1v1h-1v-1h-1v-1h1zM304,289h1v1h1v1h-1v1h-1v-1h-1v-1h1zM309,280h1v1h1v1h-1v1h-1v-1h-1v-1h1zM317,277h1v1h1v1h-1v1h-1v-1h-1v-1h1zM326,275h1v1h1v1h-1v1h-1v-1h-1v-1h1zM370,255h1v1h1v1h-1v1h-1v-1h-1v-1h1zM362,262h1v1h1v1h-1v1h-1v-1h-1v-1h1zM379,242h1v1h1v1h-1v1h-1v-1h-1v-1h1zM361,263h1v1h1v1h-1v1h-1v-1h-1v-1h1zM346,271h1v1h1v1h-1v1h-1v-1h-1v-1h1zM381,244h1v1h1v1h-1v1h-1v-1h-1v-1h1zM371,257h1v1h1v1h-1v1h-1v-1h-1v-1h1zM366,259h1v1h1v1h-1v1h-1v-1h-1v-1h1zM367,259h1v1h1v1h-1v1h-1v-1h-1v-1h1zM387,236h1v1h1v1h-1v1h-1v-1h-1v-1h1zM383,246h1v1h1v1h-1v1h-1v-1h-1v-1h1zM376,231h1v1h1v1h-1v1h-1v-1h-1v-1h1zM352,248h1v1h1v1h-1v1h-1v-1h-1v-1h1zM359,251h1v1h1v1h-1v1h-1v-1h-1v-1h1zM379,222h1v1h1v1h-1v1h-1v-1h-1v-1h1zM384,235h1v1h1v1h-1v1h-1v-1h-1v-1h1zM388,230h1v1h1v1h-1v1h-1v-1h-1v-1h1zM396,204h1v1h1v1h-1v1h-1v-1h-1v-1h1zM393,237h1v1h1v1h-1v1h-1v-1h-1v-1h1zM393,219h1v1h1v1h-1v1h-1v-1h-1v-1h1zM380,221h1v1h1v1h-1v1h-1v-1h-1v-1h1zM409,197h1v1h1v1h-1v1h-1v-1h-1v-1h1zM414,197h1v1h1v1h-1v1h-1v-1h-1v-1h1zM386,233h1v1h1v1h-1v1h-1v-1h-1v-1h1zM393,218h1v1h1v1h-1v1h-1v-1h-1v-1h1zM412,190h1v1h1v1h-1v1h-1v-1h-1v-1h1zM393,189h1v1h1v1h-1v1h-1v-1h-1v-1h1zM404,191h1v1h1v1h-1v1h-1v-1h-1v-1h1zM404,229h1v1h1v1h-1v1h-1v-1h-1v-1h1zM396,188h1v1h1v1h-1v1h-1v-1h-1v-1h1zM390,142h1v1h1v1h-1v1h-1v-1h-1v-1h1zM394,159h1v1h1v1h-1v1h-1v-1h-1v-1h1zM395,140h1v1h1v1h-1v1h-1v-1h-1v-1h1zM397,168h1v1h1v1h-1v1h-1v-1h-1v-1h1zM390,108h1v1h1v1h-1v1h-1v-1h-1v-1h1zM394,108h1v1h1v1h-1v1h-1v-1h-1v-1h1z"/>
<path fill="#4900d1" d="M398,149h1v1h1v1h-1v1h-1zM401,186h1v1h1v1h-1v1h-1v-1h-1v-1h1zM348,236h1v1h1v1h-1v1h-1v-1h-1v-1h1z"/>
<path fill="#0053ff" d="M404,178h1v1h1v1h-1v1h-1v-1h-1v-1h1zM318,277h1v1h1v1h-1v1h-1v-1h-1v-1h1zM314,278h1v1h1v1h-1v1h-1v-1h-1v-1h1zM313,281h1v1h1v1h-1v1h-1v-1h-1v-1h1zM316,278h1v1h1v1h-1v1h-1v-1h-1v-1h1zM336,273h1v1h1v1h-1v1h-1v-1h-1v-1h1zM335,272h1v1h1v1h-1v1h-1v-1h-1v-1h1zM342,276h1v1h1v1h-1v1h-1v-1h-1v-1h1zM344,275h1v1h1v1h-1v1h-1v-1h-1v-1h1zM358,268h1v1h1v1h-1v1h-1v-1h-1v-1h1zM369,258h1v1h1v1h-1v1h-1v-1h-1v-1h1zM349,271h1v1h1v1h-1v1h-1v-1h-1v-1h1zM348,270h1v1h1v1h-1v1h-1v-1h-1v-1h1zM359,265h1v1h1v1h-1v1h-1v-1h-1v-1h1zM361,264h1v1h1v1h-1v1h-1v-1h-1v-1h1zM334,264h1v1h1v1h-1v1h-1v-1h-1v-1h1zM361,252h1v1h1v1h-1v1h-1v-1h-1v-1h1zM354,251h1v1h1v1h-1v1h-1v-1h-1v-1h1zM359,254h1v1h1v1h-1v1h-1v-1h-1v-1h1zM319,266h1v1h1v1h-1v1h-1v-1h-1v-1h1zM347,260h1v1h1v1h-1v1h-1v-1h-1v-1h1zM353,259h1v1h1v1h-1v1h-1v-1h-1v-1h1zM338,256h1v1h1v1h-1v1h-1v-1h-1v-1h1zM334,268h1v1h1v1h-1v1h-1v-1h-1v-1h1zM361,252h1v1h1v1h-1v1h-1v-1h-1v-1h1zM352,260h1v1h1v1h-1v1h-1v-1h-1v-1h1zM387,192h1v1h1v1h-1v1h-1v-1h-1v-1h1zM400,239h1v1h1v1h-1v1h-1v-1h-1v-1h1zM397,226h1v1h1v1h-1v1h-1v-1h-1v-1h1zM391,212h1v1h1v1h-1v1h-1v-1h-1v-1h1zM381,210h1v1h1v1h-1v1h-1v-1h-1v-1h1zM390,222h1v1h1v1h-1v1h-1v-1h-1v-1h1zM387,239h1v1h1v1h-1v1h-1v-1h-1v-1h1zM387,208h1v1h1v1h-1v1h-1v-1h-1v-1h1zM403,200h1v1h1v1h-1v1h-1v-1h-1v-1h1zM380,242h1v1h1v1h-1v1h-1v-1h-1v-1h1zM416,206h1v1h1v1h-1v1h-1v-1h-1v-1h1zM406,226h1v1h1v1h-1v1h-1v-1h-1v-1h1zM395,215h1v1h1v1h-1v1h-1v-1h-1v-1h1zM393,215h1v1h1v1h-1v1h-1v-1h-1v-1h1zM398,197h1v1h1v1h-1v1h-1v-1h-1v-1h1zM393,211h1v1h1v1h-1v1h-1v-1h-1v-1h1zM384,239h1v1h1v1h-1v1h-1v-1h-1v-1h1zM410,207h1v1h1v1h-1v1h-1v-1h-1v-1h1zM405,217h1v1h1v1h-1v1h-1v-1h-1v-1h1zM402,167h1v1h1v1h-1v1h-1v-1h-1v-1h1zM390,187h1v1h1v1h-1v1h-1v-1h-1v-1h1zM398,184h1v1h1v1h-1v1h-1v-1h-1v-1h1zM387,176h1v1h1v1h-1v1h-1v-1h-1v-1h1zM397,144h1v1h1v1h-1v1h-1v-1h-1v-1h1zM391,156h1v1h1v1h-1v1h-1v-1h-1v-1h1zM391,147h1v1h1v1h-1v1h-1v-1h-1v-1h1zM397,170h1v1h1v1h-1v1h-1v-1h-1v-1h1zM396,173h1v1h1v1h-1v1h-1v-1h-1v-1h1zM392,185h1v1h1v1h-1v1h-1v-1h-1v-1h1zM389,176h1v1h1v1h-1v1h-1v-1h-1v-1h1zM398,145h1v1h1v1h-1v1h-1v-1h-1v-1h1zM392,170h1v1h1v1h-1v1h-1v-1h-1v-1h1zM398,137h1v1h1v1h-1v1h-1v-1h-1v-1h1zM391,133h1v1h1v1h-1v1h-1v-1h-1v-1h1zM391,105h1v1h1v1h-1v1h-1v-1h-1v-1h1zM396,113h1v1h1v1h-1v1h-1v-1h-1v-1h1z"/>
<path fill="#dbfe00" d="M396,122h1v1h1v1h-1v1h-1v-1h-1v-1h1z"/>
<path fill="#5000c7" d="M400,130h1v1h1v1h-1v1h-1v-1h-1v-1h1z"/>
<path fill="#ff0200" d="M415,232h1v1h1v1h-1v1h-1v-1h-1v-1h1z"/>
<path fill="#0063ff" d="M418,232h1v1h1v1h-1v1h-1v-1h-1v-1h1zM313,283h1v1h1v1h-1v1h-1v-1h-1v-1h1zM325,276h1v1h1v1h-1v1h-1v-1h-1v-1h1zM308,278h1v1h1v1h-1v1h-1v-1h-1v-1h1zM328,276h1v1h1v1h-1v1h-1v-1h-1v-1h1zM305,279h1v1h1v1h-1v1h-1v-1h-1v-1h1zM306,281h1v1h1v1h-1v1h-1v-1h-1v-1h1zM335,274h1v1h1v1h-1v1h-1v-1h-1v-1h1zM337,275h1v1h1v1h-1v1h-1v-1h-1v-1h1zM333,275h1v1h1v1h-1v1h-1v-1h-1v-1h1zM336,276h1v1h1v1h-1v1h-1v-1h-1v-1h1zM337,272h1v1h1v1h-1v1h-1v-1h-1v-1h1zM341,271h1v1h1v1h-1v1h-1v-1h-1v-1h1zM379,249h1v1h1v1h-1v1h-1v-1h-1v-1h1zM385,240h1v1h1v1h-1v1h-1v-1h-1v-1h1zM373,255h1v1h1v1h-1v1h-1v-1h-1v-1h1zM364,261h1v1h1v1h-1v1h-1v-1h-1v-1h1zM386,239h1v1h1v1h-1v1h-1v-1h-1v-1h1zM341,272h1v1h1v1h-1v1h-1v-1h-1v-1h1zM387,239h1v1h1v1h-1v1h-1v-1h-1v-1h1zM377,248h1v1h1v1h-1v1h-1v-1h-1v-1h1zM388,235h1v1h1v1h-1v1h-1v-1h-1v-1h1zM348,275h1v1h1v1h-1v1h-1v-1h-1v-1h1zM367,257h1v1h1v1h-1v1h-1v-1h-1v-1h1zM376,239h1v1h1v1h-1v1h-1v-1h-1v-1h1zM362,259h1v1h1v1h-1v1h-1v-1h-1v-1h1zM351,238h1v1h1v1h-1v1h-1v-1h-1v-1h1zM360,254h1v1h1v1h-1v1h-1v-1h-1v-1h1zM346,270h1v1h1v1h-1v1h-1v-1h-1v-1h1zM374,246h1v1h1v1h-1v1h-1v-1h-1v-1h1zM342,266h1v1h1v1h-1v1h-1v-1h-1v-1h1zM366,252h1v1h1v1h-1v1h-1v-1h-1v-1h1zM362,249h1v1h1v1h-1v1h-1v-1h-1v-1h1zM356,255h1v1h1v1h-1v1h-1v-1h-1v-1h1zM358,250h1v1h1v1h-1v1h-1v-1h-1v-1h1zM392,197h1v1h1v1h-1v1h-1v-1h-1v-1h1zM390,225h1v1h1v1h-1v1h-1v-1h-1v-1h1zM391,189h1v1h1v1h-1v1h-1v-1h-1v-1h1zM386,202h1v1h1v1h-1v1h-1v-1h-1v-1h1zM421,199h1v1h1v1h-1v1h-1v-1h-1v-1h1zM386,227h1v1h1v1h-1v1h-1v-1h-1v-1h1zM389,230h1v1h1v1h-1v1h-1v-1h-1v-1h1zM385,220h1v1h1v1h-1v1h-1v-1h-1v-1h1zM387,201h1v1h1v1h-1v1h-1v-1h-1v-1h1zM390,229h1v1h1v1h-1v1h-1v-1h-1v-1h1zM386,225h1v1h1v1h-1v1h-1v-1h-1v-1h1zM394,212h1v1h1v1h-1v1h-1v-1h-1v-1h1zM384,225h1v1h1v1h-1v1h-1v-1h-1v-1h1zM400,201h1v1h1v1h-1v1h-1v-1h-1v-1h1zM382,212h1v1h1v1h-1v1h-1v-1h-1v-1h1zM386,222h1v1h1v1h-1v1h-1v-1h-1v-1h1zM386,208h1v1h1v1h-1v1h-1v-1h-1v-1h1zM384,231h1v1h1v1h-1v1h-1v-1h-1v-1h1zM395,233h1v1h1v1h-1v1h-1v-1h-1v-1h1zM408,202h1v1h1v1h-1v1h-1v-1h-1v-1h1zM422,207h1v1h1v1h-1v1h-1v-1h-1v-1h1zM410,192h1v1h1v1h-1v1h-1v-1h-1v-1h1zM401,221h1v1h1v1h-1v1h-1v-1h-1v-1h1zM393,217h1v1h1v1h-1v1h-1v-1h-1v-1h1zM386,223h1v1h1v1h-1v1h-1v-1h-1v-1h1zM395,154h1v1h1v1h-1v1h-1v-1h-1v-1h1zM396,142h1v1h1v1h-1v1h-1v-1h-1v-1h1zM392,177h1v1h1v1h-1v1h-1v-1h-1v-1h1zM391,171h1v1h1v1h-1v1h-1v-1h-1v-1h1zM391,165h1v1h1v1h-1v1h-1v-1h-1v-1h1zM388,171h1v1h1v1h-1v1h-1v-1h-1v-1h1zM398,184h1v1h1v1h-1v1h-1v-1h-1v-1h1zM388,187h1v1h1v1h-1v1h-1v-1h-1v-1h1zM389,166h1v1h1v1h-1v1h-1v-1h-1v-1h1zM398,161h1v1h1v1h-1v1h-1v-1h-1v-1h1zM389,187h1v1h1v1h-1v1h-1v-1h-1v-1h1zM392,164h1v1h1v1h-1v1h-1v-1h-1v-1h1zM394,135h1v1h1v1h-1v1h-1v-1h-1v-1h1zM392,122h1v1h1v1h-1v1h-1v-1h-1v-1h1zM391,123h1v1h1v1h-1v1h-1v-1h-1v-1h1zM393,121h1v1h1v1h-1v1h-1v-1h-1v-1h1zM394,118h1v1h1v1h-1v1h-1v-1h-1v-1h1zM391,99h1v1h1v1h-1v1h-1v-1h-1v-1h1zM395,97h1v1h1v1h-1v1h-1v-1h-1v-1h1zM392,87h1v1h1v1h-1v1h-1v-1h-1v-1h1z"/>
<path fill="#ff4300" d="M406,247h1v1h1v1h-1v1h-1v-1h-1v-1h1z"/>
<path fill="#7cfb00" d="M369,230h1v3h-1v-1h-1v-1h1zM360,257h1v1h1v1h-1v1h-1z"/>
<path fill="#ff9300" d="M351,256h1v1h1v1h-3v-1h1z"/>
<path fill="#00e2ff" d="M345,234h1v1h1v1h-1v1h-1v-1h-1v-1h1zM316,279h1v1h1v1h-1v1h-1v-1h-1v-1h1zM318,274h1v1h1v1h-1v1h-1v-1h-1v-1h1zM308,280h1v1h1v1h-1v1h-1v-1h-1v-1h1zM377,251h1v1h1v1h-1v1h-1v-1h-1v-1h1zM381,245h1v1h1v1h-1v1h-1v-1h-1v-1h1zM379,248h1v1h1v1h-1v1h-1v-1h-1v-1h1zM362,263h1v1h1v1h-1v1h-1v-1h-1v-1h1zM363,264h1v1h1v1h-1v1h-1v-1h-1v-1h1zM382,245h1v1h1v1h-1v1h-1v-1h-1v-1h1zM351,259h1v1h1v1h-1v1h-1v-1h-1v-1h1zM351,267h1v1h1v1h-1v1h-1v-1h-1v-1h1zM337,263h1v1h1v1h-1v1h-1v-1h-1v-1h1zM349,259h1v1h1v1h-1v1h-1v-1h-1v-1h1zM350,257h1v1h1v1h-1v1h-1v-1h-1v-1h1zM392,216h1v1h1v1h-1v1h-1v-1h-1v-1h1zM379,233h1v1h1v1h-1v1h-1v-1h-1v-1h1zM392,211h1v1h1v1h-1v1h-1v-1h-1v-1h1zM396,242h1v1h1v1h-1v1h-1v-1h-1v-1h1zM390,199h1v1h1v1h-1v1h-1v-1h-1v-1h1zM378,239h1v1h1v1h-1v1h-1v-1h-1v-1h1zM387,229h1v1h1v1h-1v1h-1v-1h-1v-1h1zM386,192h1v1h1v1h-1v1h-1v-1h-1v-1h1zM402,209h1v1h1v1h-1v1h-1v-1h-1v-1h1zM400,225h1v1h1v1h-1v1h-1v-1h-1v-1h1zM409,219h1v1h1v1h-1v1h-1v-1h-1v-1h1zM402,169h1v1h1v1h-1v1h-1v-1h-1v-1h1zM395,161h1v1h1v1h-1v1h-1v-1h-1v-1h1zM392,139h1v1h1v1h-1v1h-1v-1h-1v-1h1zM391,148h1v1h1v1h-1v1h-1v-1h-1v-1h1zM387,168h1v1h1v1h-1v1h-1v-1h-1v-1h1zM397,139h1v1h1v1h-1v1h-1v-1h-1v-1h1zM395,186h1v1h1v1h-1v1h-1v-1h-1v-1h1zM392,105h1v1h1v1h-1v1h-1v-1h-1v-1h1z"/>
<path fill="#ff2300" d="M324,261h2v1h-1v1h-1z"/>
<path fill="#00fedb" d="M281,300h1v1h1v1h-1v1h-1v-1h-1v-1h1zM379,245h1v1h1v1h-1v1h-1v-1h-1v-1h1zM344,255h1v1h1v1h-1v1h-1v-1h-1v-1h1zM384,200h1v1h1v1h-1v1h-1v-1h-1v-1h1zM379,234h1v1h1v1h-1v1h-1v-1h-1v-1h1zM420,209h1v1h1v1h-1v1h-1v-1h-1v-1h1zM386,198h1v1h1v1h-1v1h-1v-1h-1v-1h1zM391,174h1v1h1v1h-1v1h-1v-1h-1v-1h1z"/>
<path fill="#00c2ff" d="M293,275h1v1h1v1h-1v1h-1v-1h-1v-1h1zM293,278h1v1h1v1h-1v1h-1v-1h-1v-1h1zM299,279h1v3h-1v-1h-1v-1h1zM325,275h1v1h1v1h-1v1h-1v-1h-1v-1h1zM338,275h1v1h1v1h-1v1h-1v-1h-1v-1h1zM334,273h1v1h1v1h-1v1h-1v-1h-1v-1h1zM373,254h1v1h1v1h-1v1h-1v-1h-1v-1h1zM352,268h1v1h1v1h-1v1h-1v-1h-1v-1h1zM349,269h1v1h1v1h-1v1h-1v-1h-1v-1h1zM345,271h1v1h1v1h-1v1h-1v-1h-1v-1h1zM353,270h1v1h1v1h-1v1h-1v-1h-1v-1h1zM362,264h1v1h1v1h-1v1h-1v-1h-1v-1h1zM375,252h1v1h1v1h-1v1h-1v-1h-1v-1h1zM360,267h1v1h1v1h-1v1h-1v-1h-1v-1h1zM345,272h1v1h1v1h-1v1h-1v-1h-1v-1h1zM376,251h1v1h1v1h-1v1h-1v-1h-1v-1h1zM384,241h1v1h1v1h-1v1h-1v-1h-1v-1h1zM357,248h1v1h1v1h-1v1h-1v-1h-1v-1h1zM342,252h1v1h1v1h-1v1h-1v-1h-1v-1h1zM350,241h1v1h1v1h-1v1h-1v-1h-1v-1h1zM360,257h1v1h1v1h-1v1h-1v-1h-1v-1h1zM374,250h1v1h1v1h-1v1h-1v-1h-1v-1h1zM355,257h1v1h1v1h-1v1h-1v-1h-1v-1h1zM395,226h1v1h1v1h-1v1h-1v-1h-1v-1h1zM394,207h1v1h1v1h-1v1h-1v-1h-1v-1h1zM382,205h1v1h1v1h-1v1h-1v-1h-1v-1h1zM393,208h1v1h1v1h-1v1h-1v-1h-1v-1h1zM392,223h1v1h1v1h-1v1h-1v-1h-1v-1h1zM412,203h1v1h1v1h-1v1h-1v-1h-1v-1h1zM398,208h1v1h1v1h-1v1h-1v-1h-1v-1h1zM385,221h1v1h1v1h-1v1h-1v-1h-1v-1h1zM394,238h1v1h1v1h-1v1h-1v-1h-1v-1h1zM388,213h1v1h1v1h-1v1h-1v-1h-1v-1h1zM379,240h1v1h1v1h-1v1h-1v-1h-1v-1h1zM396,196h1v1h1v1h-1v1h-1v-1h-1v-1h1zM378,222h1v1h1v1h-1v1h-1v-1h-1v-1h1zM396,205h1v1h1v1h-1v1h-1v-1h-1v-1h1zM408,191h1v1h1v1h-1v1h-1v-1h-1v-1h1zM398,217h1v1h1v1h-1v1h-1v-1h-1v-1h1zM398,223h1v1h1v1h-1v1h-1v-1h-1v-1h1zM390,234h1v1h1v1h-1v1h-1v-1h-1v-1h1zM405,230h1v1h1v1h-1v1h-1v-1h-1v-1h1zM400,238h1v1h1v1h-1v1h-1v-1h-1v-1h1zM394,202h1v1h1v1h-1v1h-1v-1h-1v-1h1zM399,149h1v1h1v1h-1v1h-1v-1h-1v-1h1zM400,188h1v1h1v1h-1v1h-1v-1h-1v-1h1zM390,143h1v1h1v1h-1v1h-1v-1h-1v-1h1zM399,146h1v1h1v1h-1v1h-1v-1h-1v-1h1zM396,142h1v1h1v1h-1v1h-1v-1h-1v-1h1zM393,161h1v1h1v1h-1v1h-1v-1h-1v-1h1zM391,124h1v1h1v1h-1v1h-1v-1h-1v-1h1zM390,126h1v1h1v1h-1v1h-1v-1h-1v-1h1zM391,129h1v1h1v1h-1v1h-1v-1h-1v-1h1z"/>
<path fill="#3100e4" d="M327,262h1v1h1v1h-1v1h-1z"/>
<path fill="#00feec" d="M317,275h1v1h1v1h-1v1h-1v-1h-1v-1h1zM323,276h1v1h1v1h-1v1h-1v-1h-1v-1h1zM332,276h1v1h1v1h-1v1h-1v-1h-1v-1h1zM372,255h1v1h1v1h-1v1h-1v-1h-1v-1h1zM357,258h1v1h1v1h-1v1h-1v-1h-1v-1h1zM396,221h1v1h1v1h-1v1h-1v-1h-1v-1h1zM388,192h1v1h1v1h-1v1h-1v-1h-1v-1h1zM396,191h1v1h1v1h-1v1h-1v-1h-1v-1h1zM408,208h1v1h1v1h-1v1h-1v-1h-1v-1h1zM394,165h1v1h1v1h-1v1h-1v-1h-1v-1h1z"/>
<path fill="#0083ff" d="M307,282h1v1h1v1h-1v1h-1v-1h-1v-1h1zM309,278h1v1h1v1h-1v1h-1v-1h-1v-1h1zM307,283h1v1h1v1h-1v1h-1v-1h-1v-1h1zM306,279h1v1h1v1h-1v1h-1v-1h-1v-1h1zM310,280h1v1h1v1h-1v1h-1v-1h-1v-1h1zM320,275h1v1h1v1h-1v1h-1v-1h-1v-1h1zM312,277h1v1h1v1h-1v1h-1v-1h-1v-1h1zM313,280h1v1h1v1h-1v1h-1v-1h-1v-1h1zM338,274h1v1h1v1h-1v1h-1v-1h-1v-1h1zM338,273h1v1h1v1h-1v1h-1v-1h-1v-1h1zM379,249h1v1h1v1h-1v1h-1v-1h-1v-1h1zM372,252h1v1h1v1h-1v1h-1v-1h-1v-1h1zM354,270h1v1h1v1h-1v1h-1v-1h-1v-1h1zM388,238h1v1h1v1h-1v1h-1v-1h-1v-1h1zM362,263h1v1h1v1h-1v1h-1v-1h-1v-1h1zM370,256h1v1h1v1h-1v1h-1v-1h-1v-1h1zM376,249h1v1h1v1h-1v1h-1v-1h-1v-1h1zM357,261h1v1h1v1h-1v1h-1v-1h-1v-1h1zM386,238h1v1h1v1h-1v1h-1v-1h-1v-1h1zM363,261h1v1h1v1h-1v1h-1v-1h-1v-1h1zM381,245h1v1h1v1h-1v1h-1v-1h-1v-1h1zM368,258h1v1h1v1h-1v1h-1v-1h-1v-1h1zM374,250h1v1h1v1h-1v1h-1v-1h-1v-1h1zM345,257h1v1h1v1h-1v1h-1v-1h-1v-1h1zM369,239h1v1h1v1h-1v1h-1v-1h-1v-1h1zM379,244h1v1h1v1h-1v1h-1v-1h-1v-1h1zM368,246h1v1h1v1h-1v1h-1v-1h-1v-1h1zM346,253h1v1h1v1h-1v1h-1v-1h-1v-1h1zM350,239h1v1h1v1h-1v1h-1v-1h-1v-1h1zM368,251h1v1h1v1h-1v1h-1v-1h-1v-1h1zM399,222h1v1h1v1h-1v1h-1v-1h-1v-1h1zM396,228h1v1h1v1h-1v1h-1v-1h-1v-1h1zM394,212h1v1h1v1h-1v1h-1v-1h-1v-1h1zM390,233h1v1h1v1h-1v1h-1v-1h-1v-1h1zM383,229h1v1h1v1h-1v1h-1v-1h-1v-1h1zM386,204h1v1h1v1h-1v1h-1v-1h-1v-1h1zM395,223h1v1h1v1h-1v1h-1v-1h-1v-1h1zM384,226h1v1h1v1h-1v1h-1v-1h-1v-1h1zM378,228h1v1h1v1h-1v1h-1v-1h-1v-1h1zM398,224h1v1h1v1h-1v1h-1v-1h-1v-1h1zM420,198h1v1h1v1h-1v1h-1v-1h-1v-1h1zM388,204h1v1h1v1h-1v1h-1v-1h-1v-1h1zM394,197h1v1h1v1h-1v1h-1v-1h-1v-1h1zM384,206h1v1h1v1h-1v1h-1v-1h-1v-1h1zM397,229h1v1h1v1h-1v1h-1v-1h-1v-1h1zM396,194h1v1h1v1h-1v1h-1v-1h-1v-1h1zM398,204h1v1h1v1h-1v1h-1v-1h-1v-1h1zM376,234h1v1h1v1h-1v1h-1v-1h-1v-1h1zM395,191h1v1h1v1h-1v1h-1v-1h-1v-1h1zM380,224h1v1h1v1h-1v1h-1v-1h-1v-1h1zM408,215h1v1h1v1h-1v1h-1v-1h-1v-1h1zM412,214h1v1h1v1h-1v1h-1v-1h-1v-1h1zM394,181h1v1h1v1h-1v1h-1v-1h-1v-1h1zM396,179h1v1h1v1h-1v1h-1v-1h-1v-1h1zM396,160h1v1h1v1h-1v1h-1v-1h-1v-1h1zM387,178h1v1h1v1h-1v1h-1v-1h-1v-1h1zM395,160h1v1h1v1h-1v1h-1v-1h-1v-1h1zM392,182h1v1h1v1h-1v1h-1v-1h-1v-1h1zM391,183h1v1h1v1h-1v1h-1v-1h-1v-1h1zM392,177h1v1h1v1h-1v1h-1v-1h-1v-1h1zM394,149h1v1h1v1h-1v1h-1v-1h-1v-1h1zM399,176h1v1h1v1h-1v1h-1v-1h-1v-1h1zM389,151h1v1h1v1h-1v1h-1v-1h-1v-1h1zM394,96h1v1h1v1h-1v1h-1v-1h-1v-1h1zM394,125h1v1h1v1h-1v1h-1v-1h-1v-1h1zM392,105h1v1h1v1h-1v1h-1v-1h-1v-1h1zM395,131h1v1h1v1h-1v1h-1v-1h-1v-1h1zM394,118h1v1h1v1h-1v1h-1v-1h-1v-1h1zM393,133h1v1h1v1h-1v1h-1v-1h-1v-1h1zM396,97h1v1h1v1h-1v1h-1v-1h-1v-1h1zM392,88h1v1h1v1h-1v1h-1v-1h-1v-1h1zM394,107h1v1h1v1h-1v1h-1v-1h-1v-1h1z"/>
<path fill="#00d2ff" d="M306,277h1v1h1v1h-1v1h-1v-1h-1v-1h1zM323,276h1v1h1v1h-1v1h-1v-1h-1v-1h1zM332,273h1v1h1v1h-1v1h-1v-1h-1v-1h1zM368,260h1v1h1v1h-1v1h-1v-1h-1v-1h1zM345,273h1v1h1v1h-1v1h-1v-1h-1v-1h1zM388,241h1v1h1v1h-1v1h-1v-1h-1v-1h1zM353,271h1v1h1v1h-1v1h-1v-1h-1v-1h1zM381,243h1v1h1v1h-1v1h-1v-1h-1v-1h1zM362,262h1v1h1v1h-1v1h-1v-1h-1v-1h1zM385,240h1v1h1v1h-1v1h-1v-1h-1v-1h1zM358,264h1v1h1v1h-1v1h-1v-1h-1v-1h1zM349,273h1v1h1v1h-1v1h-1v-1h-1v-1h1zM357,263h1v1h1v1h-1v1h-1v-1h-1v-1h1zM379,247h1v1h1v1h-1v1h-1v-1h-1v-1h1zM363,258h1v1h1v1h-1v1h-1v-1h-1v-1h1zM341,266h1v1h1v1h-1v1h-1v-1h-1v-1h1zM371,239h1v1h1v1h-1v1h-1v-1h-1v-1h1zM355,244h1v1h1v1h-1v1h-1v-1h-1v-1h1zM353,266h1v1h1v1h-1v1h-1v-1h-1v-1h1zM388,218h1v1h1v1h-1v1h-1v-1h-1v-1h1zM387,196h1v1h1v1h-1v1h-1v-1h-1v-1h1zM397,198h1v1h1v1h-1v1h-1v-1h-1v-1h1zM388,196h1v1h1v1h-1v1h-1v-1h-1v-1h1zM386,219h1v1h1v1h-1v1h-1v-1h-1v-1h1zM397,235h1v1h1v1h-1v1h-1v-1h-1v-1h1zM412,199h1v1h1v1h-1v1h-1v-1h-1v-1h1zM387,200h1v1h1v1h-1v1h-1v-1h-1v-1h1zM382,229h1v1h1v1h-1v1h-1v-1h-1v-1h1zM398,224h1v1h1v1h-1v1h-1v-1h-1v-1h1zM406,216h1v1h1v1h-1v1h-1v-1h-1v-1h1zM380,207h1v1h1v1h-1v1h-1v-1h-1v-1h1zM395,214h1v1h1v1h-1v1h-1v-1h-1v-1h1zM393,198h1v1h1v1h-1v1h-1v-1h-1v-1h1zM389,211h1v1h1v1h-1v1h-1v-1h-1v-1h1zM408,214h1v1h1v1h-1v1h-1v-1h-1v-1h1zM391,149h1v1h1v1h-1v1h-1v-1h-1v-1h1zM397,162h1v1h1v1h-1v1h-1v-1h-1v-1h1zM389,151h1v1h1v1h-1v1h-1v-1h-1v-1h1zM393,154h1v1h1v1h-1v1h-1v-1h-1v-1h1zM396,157h1v1h1v1h-1v1h-1v-1h-1v-1h1zM391,167h1v1h1v1h-1v1h-1v-1h-1v-1h1zM391,151h1v1h1v1h-1v1h-1v-1h-1v-1h1zM397,187h1v1h1v1h-1v1h-1v-1h-1v-1h1zM394,135h1v1h1v1h-1v1h-1v-1h-1v-1h1zM391,104h1v1h1v1h-1v1h-1v-1h-1v-1h1zM395,95h1v1h1v1h-1v1h-1v-1h-1v-1h1zM391,138h1v1h1v1h-1v1h-1v-1h-1v-1h1zM392,133h1v1h1v1h-1v1h-1v-1h-1v-1h1zM391,134h1v1h1v1h-1v1h-1v-1h-1v-1h1zM394,105h1v1h1v1h-1v1h-1v-1h-1v-1h1z"/>
<path fill="#0004ff" d="M332,274h1v1h1v1h-1v1h-1v-1h-1v-1h1zM350,270h1v1h1v1h-1v1h-1v-1h-1v-1h1zM342,272h1v1h1v1h-1v1h-1v-1h-1v-1h1zM372,248h1v1h1v1h-1v1h-1v-1h-1v-1h1zM337,261h1v1h1v1h-1v1h-1v-1h-1v-1h1zM391,233h1v1h1v1h-1v1h-1v-1h-1v-1h1zM404,201h1v1h1v1h-1v1h-1v-1h-1v-1h1zM392,226h1v1h1v1h-1v1h-1v-1h-1v-1h1zM382,220h1v1h1v1h-1v1h-1v-1h-1v-1h1zM387,205h1v1h1v1h-1v1h-1v-1h-1v-1h1zM413,222h1v1h1v1h-1v1h-1v-1h-1v-1h1zM386,202h1v1h1v1h-1v1h-1v-1h-1v-1h1zM406,230h1v1h1v1h-1v1h-1v-1h-1v-1h1zM410,224h1v1h1v1h-1v1h-1v-1h-1v-1h1zM379,219h1v1h1v1h-1v1h-1v-1h-1v-1h1zM391,171h1v1h1v1h-1v1h-1v-1h-1v-1h1zM394,186h1v1h1v1h-1v1h-1v-1h-1v-1h1zM396,170h1v1h1v1h-1v1h-1v-1h-1v-1h1zM387,161h1v1h1v1h-1v1h-1v-1h-1v-1h1z"/>
</g>
</svg></body></html>
